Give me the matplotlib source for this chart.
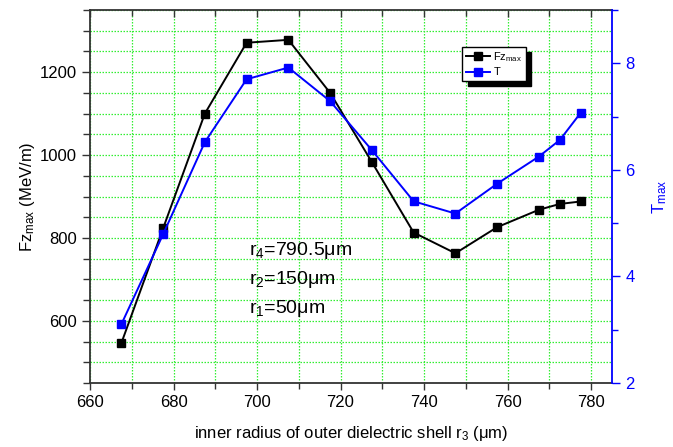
import numpy as np
import matplotlib
matplotlib.use("Agg")
import matplotlib.pyplot as plt
from matplotlib.ticker import MultipleLocator

plt.rcParams['font.family'] = ['Liberation Sans', 'DejaVu Sans']
plt.rcParams['mathtext.fontset'] = 'custom'
plt.rcParams['mathtext.rm'] = 'Liberation Sans'
plt.rcParams['mathtext.it'] = 'Liberation Sans'

# inner radius of outer dielectric shell r3 (um)
r3 = [667.5, 677.5, 687.5, 697.5, 707.5, 717.5, 727.5, 737.5, 747.5, 757.5, 767.5, 772.5, 777.5]
# peak longitudinal force (MeV/m)
fz_max = [546, 823, 1100, 1271, 1278, 1150, 983, 813, 763, 826, 868, 882, 888]
# T_max
t_max = [3.10, 4.79, 6.52, 7.70, 7.92, 7.29, 6.37, 5.41, 5.18, 5.74, 6.25, 6.56, 7.07]

# fixed radii shown as notes on the plot
notes = ['r$_4$=790.5\u03bcm', 'r$_2$=150\u03bcm', 'r$_1$=50\u03bcm']
note_y = [758, 689, 619]

grid_green = '#33ee33'
spine_col = '#333333'

fig = plt.figure(figsize=(6.73, 4.47), dpi=100)
ax = fig.add_axes([90 / 673, 1 - 383 / 447, 522 / 673, 373 / 447])
ax2 = ax.twinx()

ax.plot(r3, fz_max, color='black', lw=1.4, marker='s', ms=5.5, label='Fz$_{max}$')
ax2.plot(r3, t_max, color='#0000ff', lw=1.4, marker='s', ms=5.5, label='T')

ax.set_xlim(660, 785)
ax.set_ylim(450, 1350)
ax2.set_ylim(2, 9)

ax.xaxis.set_major_locator(MultipleLocator(20))
ax.xaxis.set_minor_locator(MultipleLocator(10))
ax.yaxis.set_major_locator(MultipleLocator(200))
ax.yaxis.set_minor_locator(MultipleLocator(50))
ax2.yaxis.set_major_locator(MultipleLocator(2))
ax2.yaxis.set_minor_locator(MultipleLocator(1))

ax.grid(True, which='both', color=grid_green, ls=(0, (1.2, 1.2)), lw=0.9)
ax.set_axisbelow(True)

ax.tick_params(axis='both', which='both', labelsize=12, colors=spine_col, labelcolor='black')
ax.tick_params(axis='x', which='major', direction='out', length=5, width=1, top=True)
ax.tick_params(axis='x', which='minor', direction='out', length=4, width=1, top=True)
ax.tick_params(axis='y', which='major', direction='out', length=6, width=1)
ax.tick_params(axis='y', which='minor', direction='out', length=5, width=1)
ax2.tick_params(axis='y', which='both', colors='#0000ff', labelcolor='#0000ff', labelsize=12, width=1)
ax2.tick_params(axis='y', which='major', length=6)
ax2.tick_params(axis='y', which='minor', length=4)

for side in ['left', 'bottom', 'top']:
    ax.spines[side].set_color(spine_col)
    ax.spines[side].set_linewidth(1.3)
ax2.spines['right'].set_color('#0000ff')
ax2.spines['right'].set_linewidth(1.3)
for side in ['left', 'bottom', 'top']:
    ax2.spines[side].set_visible(False)
ax.spines['right'].set_visible(False)

# top ticks point inward, bottom ones outward
for t in ax.xaxis.get_major_ticks() + ax.xaxis.get_minor_ticks():
    t.tick2line.set_marker(3)

ax.set_xlabel('inner radius of outer dielectric shell r$_3$ (\u03bcm)', fontsize=12, labelpad=10)
ax.set_ylabel('Fz$_{max}$ (MeV/m)', fontsize=12, labelpad=2)
ax2.set_ylabel('T$_{max}$', fontsize=12, color='#0000ff', labelpad=11)

for txt, yv in zip(notes, note_y):
    ax.text(698, yv, txt, fontsize=14, va='baseline')

h1, l1 = ax.get_legend_handles_labels()
h2, l2 = ax2.get_legend_handles_labels()
leg = ax2.legend(h1 + h2, l1 + l2, loc='upper left', bbox_to_anchor=(0.713, 0.901),
                 borderaxespad=0, fontsize=8, fancybox=False, framealpha=1,
                 edgecolor='black', handlelength=2.2, handletextpad=0.3,
                 borderpad=0.3, labelspacing=0.3,
                 shadow={'ox': 4, 'oy': -4, 'facecolor': 'black',
                         'edgecolor': 'black', 'alpha': 1})
leg.get_frame().set_linewidth(1.0)

fig.savefig('out.png', dpi=100)
